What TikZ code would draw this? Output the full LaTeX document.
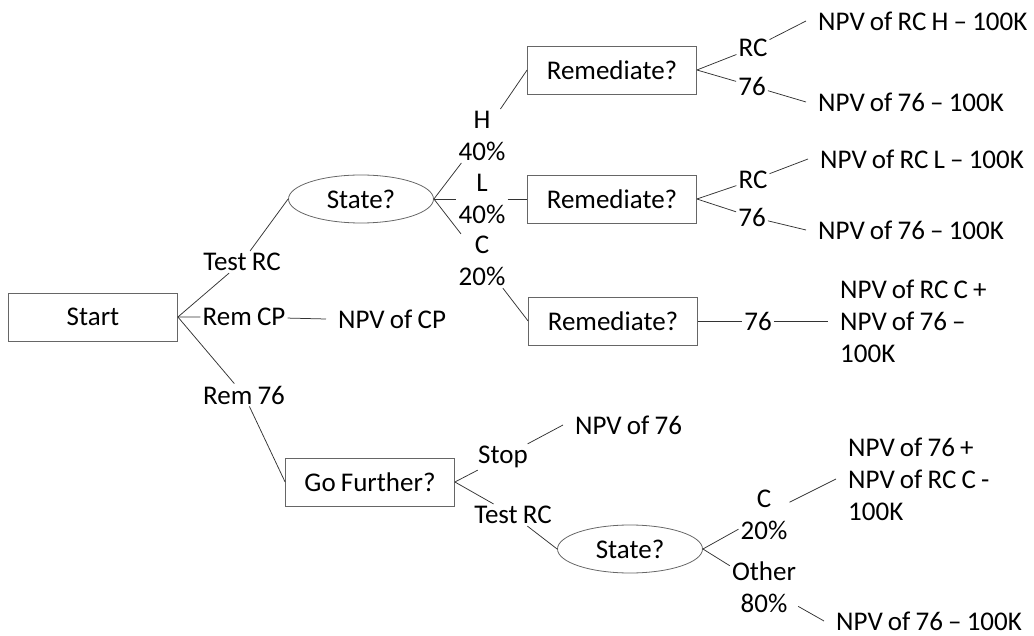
\documentclass[tikz,border=0pt]{standalone}
\usepackage{fontspec}
\setmainfont{Carlito}[WordSpace=0.85]
\usepackage{tikz}
\usetikzlibrary{positioning,shapes.geometric}

\begin{document}
\begin{tikzpicture}[x=1pt, y=-1pt,
    font=\fontsize{27}{32}\selectfont,
    box/.style={draw=black!60, line width=0.8pt, rectangle, minimum width=169pt, minimum height=48pt},
    chance/.style={draw=black!60, line width=0.8pt, ellipse, minimum width=145pt, minimum height=48pt},
    lbl/.style={inner sep=2pt, align=center},
    result/.style={anchor=west, inner xsep=12pt, inner ysep=1pt, align=left},
    branch/.style={draw=black!80, line width=0.75pt}]
    \useasboundingbox (0,0) rectangle (1034,636);

    \node[box] (start) at (93,317) {Start};
    \node[lbl] (trc) at (242,262) {Test RC};
    \node[lbl] (rcp) at (244,317) {Rem CP};
    \node[lbl] (r76) at (244,395) {Rem 76};
    \node[result] (npvcp) at (326,319) {NPV of CP};

    \node[chance] (state) at (361,199) {State?};
    \node[lbl] (h) at (482,136) {H\\40\%};
    \node[lbl] (l) at (482,199) {L\\40\%};
    \node[lbl] (c) at (482,261) {C\\20\%};

    \node[box] (remh) at (612,70) {Remediate?};
    \node[box] (reml) at (612,199) {Remediate?};
    \node[box] (remc) at (613,321) {Remediate?};

    \node[lbl] (rch) at (753,48) {RC};
    \node[lbl] (sxh) at (752,86) {76};
    \node[lbl] (rcl) at (753,180) {RC};
    \node[lbl] (sxl) at (752,217) {76};
    \node[lbl] (sxc) at (758,321) {76};

    \node[result] (resrch) at (806,21) {NPV of RC H -- 100K};
    \node[result] (ressxh) at (806,102) {NPV of 76 -- 100K};
    \node[result] (resrcl) at (808,159) {NPV of RC L -- 100K};
    \node[result] (ressxl) at (806,230) {NPV of 76 -- 100K};
    \node[result] (ressxc) at (828,321) {NPV of RC C +\\NPV of 76 --\\100K};

    \node[box] (gofur) at (370,482) {Go Further?};
    \node[lbl] (stop) at (503,457) {Stop};
    \node[lbl] (trc2) at (513,515) {Test RC};
    \node[result] (npvsx) at (563,425) {NPV of 76};
    \node[chance] (state2) at (630,549) {State?};
    \node[lbl] (c2) at (764,515) {C\\20\%};
    \node[lbl] (oth) at (764,587) {Other\\80\%};
    \node[result] (ressxrc) at (836,479) {NPV of 76 +\\NPV of RC C -\\100K};
    \node[result] (ressxd) at (824,621) {NPV of 76 -- 100K};

    \draw[branch] (start.east) -- (trc) -- (state.west);
    \draw[branch] (start.east) -- (rcp) -- (npvcp.west);
    \draw[branch] (start.east) -- (r76) -- (gofur.west);
    \draw[branch] (state.east) -- (h) -- (remh.west);
    \draw[branch] (state.east) -- (l) -- (reml.west);
    \draw[branch] (state.east) -- (c) -- (remc.west);
    \draw[branch] (remh.east) -- (rch) -- (resrch.west);
    \draw[branch] (remh.east) -- (sxh) -- (ressxh.west);
    \draw[branch] (reml.east) -- (rcl) -- (resrcl.west);
    \draw[branch] (reml.east) -- (sxl) -- (ressxl.west);
    \draw[branch] (remc.east) -- (sxc) -- (ressxc.west);
    \draw[branch] (gofur.east) -- (stop) -- (npvsx.west);
    \draw[branch] (gofur.east) -- (trc2) -- (state2.west);
    \draw[branch] (state2.east) -- (c2) -- (ressxrc.west);
    \draw[branch] (state2.east) -- (oth) -- (ressxd.west);
\end{tikzpicture}
\end{document}
